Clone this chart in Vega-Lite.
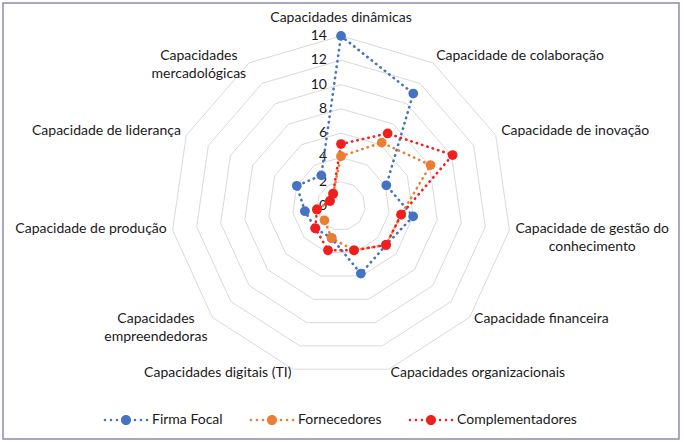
{
  "$schema": "https://vega.github.io/schema/vega-lite/v6.json",
  "width": 676,
  "height": 436,
  "autosize": "none",
  "padding": {"left": 3, "top": 3, "right": 5, "bottom": 3},
  "background": "white",
  "datasets": {
    "axes": [
      {"k": 0, "label": "Capacidades dinâmicas"},
      {"k": 1, "label": "Capacidade de colaboração"},
      {"k": 2, "label": "Capacidade de inovação"},
      {"k": 3, "label": "Capacidade de gestão do\nconhecimento"},
      {"k": 4, "label": "Capacidade financeira"},
      {"k": 5, "label": "Capacidades organizacionais"},
      {"k": 6, "label": "Capacidades digitais (TI)"},
      {"k": 7, "label": "Capacidades\nempreendedoras"},
      {"k": 8, "label": "Capacidade de produção"},
      {"k": 9, "label": "Capacidade de liderança"},
      {"k": 10, "label": "Capacidades\nmercadológicas"}
    ],
    "rings": [
      {"ring": 2, "ks": [0, 1, 2, 3, 4, 5, 6, 7, 8, 9, 10]},
      {"ring": 4, "ks": [0, 1, 2, 3, 4, 5, 6, 7, 8, 9, 10]},
      {"ring": 6, "ks": [0, 1, 2, 3, 4, 5, 6, 7, 8, 9, 10]},
      {"ring": 8, "ks": [0, 1, 2, 3, 4, 5, 6, 7, 8, 9, 10]},
      {"ring": 10, "ks": [0, 1, 2, 3, 4, 5, 6, 7, 8, 9, 10]},
      {"ring": 12, "ks": [0, 1, 2, 3, 4, 5, 6, 7, 8, 9, 10]},
      {"ring": 14, "ks": [0, 1, 2, 3, 4, 5, 6, 7, 8, 9, 10]}
    ],
    "ticks": [{"v": 0}, {"v": 2}, {"v": 4}, {"v": 6}, {"v": 8}, {"v": 10}, {"v": 12}, {"v": 14}],
    "series": [
      {"series": "Firma Focal", "k": 0, "value": 14},
      {"series": "Firma Focal", "k": 1, "value": 11},
      {"series": "Firma Focal", "k": 2, "value": 4.1},
      {"series": "Firma Focal", "k": 3, "value": 6},
      {"series": "Firma Focal", "k": 4, "value": 4.9},
      {"series": "Firma Focal", "k": 5, "value": 5.8},
      {"series": "Firma Focal", "k": 6, "value": 2.75},
      {"series": "Firma Focal", "k": 7, "value": 2.8},
      {"series": "Firma Focal", "k": 8, "value": 3},
      {"series": "Firma Focal", "k": 9, "value": 4},
      {"series": "Firma Focal", "k": 10, "value": 3},
      {"series": "Fornecedores", "k": 0, "value": 4.1},
      {"series": "Fornecedores", "k": 1, "value": 6.2},
      {"series": "Fornecedores", "k": 2, "value": 8.1},
      {"series": "Fornecedores", "k": 3, "value": 5},
      {"series": "Fornecedores", "k": 4, "value": 4.9},
      {"series": "Fornecedores", "k": 5, "value": 3.8},
      {"series": "Fornecedores", "k": 6, "value": 2.75},
      {"series": "Fornecedores", "k": 7, "value": 1.8},
      {"series": "Fornecedores", "k": 8, "value": 2},
      {"series": "Fornecedores", "k": 9, "value": 1},
      {"series": "Fornecedores", "k": 10, "value": 1.2},
      {"series": "Complementadores", "k": 0, "value": 5.1},
      {"series": "Complementadores", "k": 1, "value": 7.1},
      {"series": "Complementadores", "k": 2, "value": 10.1},
      {"series": "Complementadores", "k": 3, "value": 5},
      {"series": "Complementadores", "k": 4, "value": 4.9},
      {"series": "Complementadores", "k": 5, "value": 3.8},
      {"series": "Complementadores", "k": 6, "value": 3.8},
      {"series": "Complementadores", "k": 7, "value": 2.8},
      {"series": "Complementadores", "k": 8, "value": 2},
      {"series": "Complementadores", "k": 9, "value": 1},
      {"series": "Complementadores", "k": 10, "value": 1.2}
    ]
  },
  "encoding": {
    "x": {"field": "x", "type": "quantitative", "scale": {"domain": [-27.82, 27.82], "nice": false, "zero": false}, "axis": null},
    "y": {"field": "y", "type": "quantitative", "scale": {"domain": [-19.177, 16.708], "nice": false, "zero": false}, "axis": null}
  },
  "layer": [
    {
      "data": {"name": "rings"},
      "transform": [
        {"flatten": ["ks"]},
        {"calculate": "datum.ring * sin(datum.ks * 2 * PI / 11)", "as": "x"},
        {"calculate": "datum.ring * cos(datum.ks * 2 * PI / 11)", "as": "y"}
      ],
      "mark": {"type": "line", "interpolate": "linear-closed", "stroke": "#D9D9D9", "strokeWidth": 1},
      "encoding": {"detail": {"field": "ring", "type": "nominal"}, "order": {"field": "ks", "type": "quantitative"}}
    },
    {
      "data": {"name": "ticks"},
      "transform": [
        {"calculate": "0", "as": "x"},
        {"calculate": "datum.v", "as": "y"}
      ],
      "mark": {"type": "text", "align": "right", "baseline": "middle", "dx": -14, "fontSize": 14, "color": "#1a1a1a", "font": "Lato"},
      "encoding": {"text": {"field": "v", "type": "quantitative"}}
    },
    {
      "data": {"name": "axes"},
      "transform": [
        {"filter": "datum.k == 0"},
        {"calculate": "14.49 * sin(datum.k * 2 * PI / 11)", "as": "x"},
        {"calculate": "14.49 * cos(datum.k * 2 * PI / 11)", "as": "y"}
      ],
      "mark": {"type": "text", "align": "center", "baseline": "middle", "dy": -12, "fontSize": 14, "color": "#1a1a1a", "font": "Lato"},
      "encoding": {"text": {"field": "label", "type": "nominal"}}
    },
    {
      "data": {"name": "axes"},
      "transform": [
        {"filter": "datum.k == 1 || datum.k == 2 || datum.k == 4 || datum.k == 5"},
        {"calculate": "14.49 * sin(datum.k * 2 * PI / 11)", "as": "x"},
        {"calculate": "14.49 * cos(datum.k * 2 * PI / 11)", "as": "y"}
      ],
      "mark": {"type": "text", "align": "left", "baseline": "middle", "dy": -2, "fontSize": 14, "color": "#1a1a1a", "font": "Lato"},
      "encoding": {"text": {"field": "label", "type": "nominal"}}
    },
    {
      "data": {"name": "axes"},
      "transform": [
        {"filter": "datum.k == 6 || datum.k == 8 || datum.k == 9"},
        {"calculate": "14.49 * sin(datum.k * 2 * PI / 11)", "as": "x"},
        {"calculate": "14.49 * cos(datum.k * 2 * PI / 11)", "as": "y"}
      ],
      "mark": {"type": "text", "align": "right", "baseline": "middle", "dy": -2, "fontSize": 14, "color": "#1a1a1a", "font": "Lato"},
      "encoding": {"text": {"field": "label", "type": "nominal"}}
    },
    {
      "data": {"name": "axes"},
      "transform": [
        {"filter": "datum.k == 3"},
        {"calculate": "14.49 * sin(datum.k * 2 * PI / 11)", "as": "x"},
        {"calculate": "14.49 * cos(datum.k * 2 * PI / 11)", "as": "y"}
      ],
      "mark": {"type": "text", "align": "center", "baseline": "middle", "dx": 77, "dy": -2, "lineBreak": "\n", "lineHeight": 18, "fontSize": 14, "color": "#1a1a1a", "font": "Lato"},
      "encoding": {"text": {"field": "label", "type": "nominal"}}
    },
    {
      "data": {"name": "axes"},
      "transform": [
        {"filter": "datum.k == 7"},
        {"calculate": "14.49 * sin(datum.k * 2 * PI / 11)", "as": "x"},
        {"calculate": "14.49 * cos(datum.k * 2 * PI / 11)", "as": "y"}
      ],
      "mark": {"type": "text", "align": "center", "baseline": "middle", "dx": -52, "dy": -2, "lineBreak": "\n", "lineHeight": 18, "fontSize": 14, "color": "#1a1a1a", "font": "Lato"},
      "encoding": {"text": {"field": "label", "type": "nominal"}}
    },
    {
      "data": {"name": "axes"},
      "transform": [
        {"filter": "datum.k == 10"},
        {"calculate": "14.49 * sin(datum.k * 2 * PI / 11)", "as": "x"},
        {"calculate": "14.49 * cos(datum.k * 2 * PI / 11)", "as": "y"}
      ],
      "mark": {"type": "text", "align": "center", "baseline": "middle", "dx": -47, "dy": -2, "lineBreak": "\n", "lineHeight": 18, "fontSize": 14, "color": "#1a1a1a", "font": "Lato"},
      "encoding": {"text": {"field": "label", "type": "nominal"}}
    },
    {
      "data": {"name": "series"},
      "transform": [
        {"calculate": "datum.value * sin(datum.k * 2 * PI / 11)", "as": "x"},
        {"calculate": "datum.value * cos(datum.k * 2 * PI / 11)", "as": "y"}
      ],
      "mark": {"type": "line", "interpolate": "linear-closed", "strokeWidth": 2.6, "strokeCap": "round", "strokeDash": [0.4, 5.2]},
      "encoding": {
        "color": {"field": "series", "type": "nominal", "scale": {"domain": ["Firma Focal", "Fornecedores", "Complementadores"], "range": ["#4472C4", "#ED7D31", "#F21D1D"]}},
        "order": {"field": "k", "type": "quantitative"}
      }
    },
    {
      "data": {"name": "series"},
      "transform": [
        {"calculate": "datum.value * sin(datum.k * 2 * PI / 11)", "as": "x"},
        {"calculate": "datum.value * cos(datum.k * 2 * PI / 11)", "as": "y"}
      ],
      "mark": {"type": "point", "filled": true, "size": 95, "opacity": 1, "shape": "circle"},
      "encoding": {
        "color": {
          "field": "series", "type": "nominal",
          "scale": {"domain": ["Firma Focal", "Fornecedores", "Complementadores"], "range": ["#4472C4", "#ED7D31", "#F21D1D"]}
        }
      }
    }
  ],
  "config": {
    "view": {"stroke": "#8C8CB4", "strokeWidth": 1.5},
    "font": "Lato",
    "legend": {
      "title": null, "orient": "none", "legendX": 101, "legendY": 395, "direction": "horizontal",
      "symbolType": "M-1.015,0A0.06,0.06 0 1,0 -0.895,0A0.06,0.06 0 1,0 -1.015,0ZM-0.742,0A0.06,0.06 0 1,0 -0.622,0A0.06,0.06 0 1,0 -0.742,0ZM-0.469,0A0.06,0.06 0 1,0 -0.349,0A0.06,0.06 0 1,0 -0.469,0ZM-0.23,0A0.23,0.23 0 1,0 0.23,0A0.23,0.23 0 1,0 -0.23,0ZM0.349,0A0.06,0.06 0 1,0 0.469,0A0.06,0.06 0 1,0 0.349,0ZM0.622,0A0.06,0.06 0 1,0 0.742,0A0.06,0.06 0 1,0 0.622,0ZM0.895,0A0.06,0.06 0 1,0 1.015,0A0.06,0.06 0 1,0 0.895,0Z",
      "symbolSize": 1936, "symbolStrokeWidth": 0, "symbolOpacity": 1,
      "labelFont": "Lato", "labelFontSize": 14, "labelColor": "#1a1a1a", "labelOffset": 4,
      "columnPadding": 26, "padding": 0
    }
  }
}
